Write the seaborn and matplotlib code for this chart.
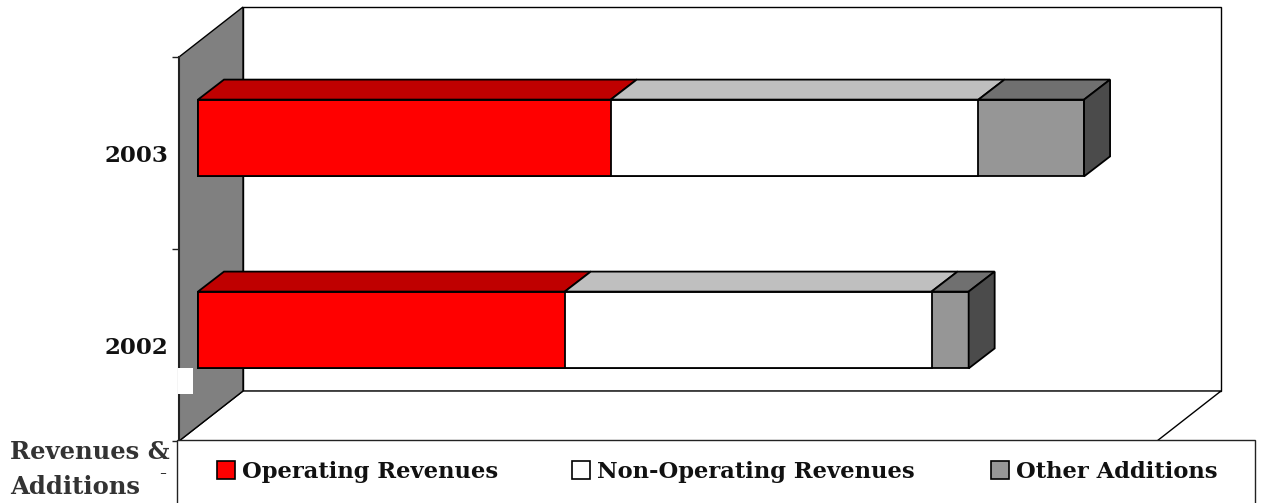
import matplotlib
matplotlib.use("Agg")
import matplotlib.pyplot as plt
from matplotlib.patches import Patch, Polygon, Rectangle
import numpy as np
import pandas as pd
import seaborn as sns

years = ["2003", "2002"]
series_names = ["Operating Revenues", "Non-Operating Revenues", "Other Additions"]
operating = [42.2, 37.5]
non_operating = [37.6, 37.5]
other = [10.8, 3.8]

face_colors = ["#FF0000", "#FFFFFF", "#969696"]
top_colors = ["#BF0000", "#BFBFBF", "#707070"]
side_color = "#4B4B4B"
wall_color = "#808080"
text_color = "#111111"
font_name = "DejaVu Serif"
legend_x = [217, 572, 991]

W, H = 1265, 503
# front plane of the 3d box, in pixels
left, right, top, bottom = 179, 1157, 57, 441
wall_dx, wall_dy = 64, 50
bar_dx, bar_dy = 26, 20
shift_dx, shift_dy = 19, 15

sns.set_style("white")
plt.rcParams["font.family"] = [font_name, "Liberation Serif"]
plt.rcParams["font.weight"] = "bold"

fig = plt.figure(figsize=(W / 100, H / 100), dpi=100)
ax = fig.add_axes([left / W, 1 - bottom / H, (right - left) / W, (bottom - top) / H])

df = pd.DataFrame({"year": years, "a": operating, "b": non_operating, "c": other})
df["total2"] = df["a"] + df["b"]
df["total3"] = df["total2"] + df["c"]

# cumulative bars drawn back to front gives the stack
for col, color in zip(["total3", "total2", "a"], face_colors[::-1]):
    sns.barplot(data=df, x=col, y="year", order=years, orient="h", color=color,
                saturation=1, width=0.4, edgecolor="black", linewidth=1.3,
                zorder=4, ax=ax)

ax.set_xlim(0, 100)
ax.set_ylim(1.5, -0.5)
ax.set_xlabel("")
ax.set_ylabel("")

sx = 100 / (right - left)
sy = 2 / (bottom - top)


def box_poly(points, color, z, lw=1.0):
    ax.add_patch(Polygon(points, closed=True, facecolor=color, edgecolor="black",
                         linewidth=lw, clip_on=False, zorder=z))


x0, x1 = ax.get_xlim()
y0, y1 = ax.get_ylim()
wx, wy = wall_dx * sx, wall_dy * sy

# back wall, floor and grey side wall
box_poly([(x0 + wx, y0 - wy), (x1 + wx, y0 - wy), (x1 + wx, y1 - wy), (x0 + wx, y1 - wy)], "white", 1)
box_poly([(x0, y0), (x0 + wx, y0 - wy), (x1 + wx, y0 - wy), (x1, y0)], "white", 1)
box_poly([(x0, y0), (x0 + wx, y0 - wy), (x0 + wx, y1 - wy), (x0, y1)], wall_color, 2)

# move the bars into the box and add their top and side faces
mx, my = shift_dx * sx, shift_dy * sy
bx, by = bar_dx * sx, bar_dy * sy
n = len(years)
bars = [p for p in ax.patches if type(p) is Rectangle][:3 * n]
for p in bars:
    p.set_x(p.get_x() + mx)
    p.set_y(p.get_y() - my)

for i in range(n):
    edges = np.cumsum([0, operating[i], non_operating[i], other[i]]) + mx
    ytop = i - 0.2 - my
    ybot = i + 0.2 - my
    for j in range(3):
        box_poly([(edges[j], ytop), (edges[j + 1], ytop),
                  (edges[j + 1] + bx, ytop - by), (edges[j] + bx, ytop - by)],
                 top_colors[j], 5, 1.3)
    end = edges[-1]
    box_poly([(end, ytop), (end + bx, ytop - by), (end + bx, ybot - by), (end, ybot)],
             side_color, 5, 1.3)

sns.despine(ax=ax, top=True, right=True, bottom=True, left=False)
ax.spines["left"].set_color("#222222")
ax.spines["left"].set_linewidth(1.5)
ax.spines["left"].set_zorder(3)
ax.set_xticks([])
ax.set_yticks([0, 1])
ax.set_yticklabels(years, fontsize=16.5, color=text_color, fontweight="bold")
ax.set_yticks([-0.5, 0.5, 1.5], minor=True)
ax.tick_params(axis="y", which="major", length=0, pad=8)
ax.tick_params(axis="y", which="minor", left=True, length=5, width=1, color="#222222")
ax.patch.set_alpha(0)

# white notch over the wall near the lower left
fig.add_artist(Rectangle((178 / W, 1 - 394 / H), 15 / W, 26 / H, facecolor="white",
                         edgecolor="none", transform=fig.transFigure, zorder=6))

# legend box runs off the bottom of the picture
fig.add_artist(Rectangle((177 / W, -10 / H), (1255 - 177) / W, (503 - 440 + 10) / H,
                         facecolor="white", edgecolor="#222222", linewidth=1,
                         transform=fig.transFigure, zorder=7))

# the entries are unevenly spaced so each one gets its own legend
for name, color, lx in zip(series_names, face_colors, legend_x):
    leg = fig.legend([Patch(facecolor=color, edgecolor="black", linewidth=1.2)], [name],
                     frameon=False, loc="center left", bbox_to_anchor=(lx / W, 1 - 472 / H),
                     bbox_transform=fig.transFigure, borderpad=0, borderaxespad=0,
                     fontsize=16.3, handlelength=0.8, handleheight=0.8,
                     handletextpad=0.3, labelcolor=text_color)
    leg.set_zorder(8)

fig.text(10 / W, 1 - 452 / H, "Revenues &", fontsize=17.5, color="#333333",
         fontweight="bold", ha="left", va="center", zorder=8)
fig.text(10 / W, 1 - 487 / H, "Additions", fontsize=17.5, color="#333333",
         fontweight="bold", ha="left", va="center", zorder=8)
fig.text(163 / W, 1 - 474 / H, "-", fontsize=15, color="#333333", fontweight="normal",
         ha="center", va="center", zorder=8)

fig.savefig("out.png", dpi=100)
